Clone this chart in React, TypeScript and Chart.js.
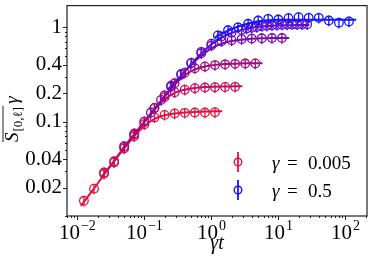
import React, { useEffect, useRef } from 'react';
import { Chart, registerables } from 'chart.js';

Chart.register(...registerables);

// ---------- data ----------
const GAMMAS = [0.005, 0.01, 0.02, 0.05, 0.1, 0.5];
const T_POINTS = [2.5, 3.54, 5, 7.07, 10, 14.1, 20, 28.3, 40, 56.6, 80, 113, 160, 226];
const T_DENSE = [2.5, 3.54, 5, 7.07, 10, 14.1, 20, 28.3, 33.6, 40, 47.6, 56.6, 67.3, 80, 95.1, 113, 135, 160, 190, 226, 269];
const T_LINE = [2.25, 3.54, 5, 7.07, 10, 14.1, 20, 28.3, 40, 56.6, 80, 113, 160, 226, 290];

const S_G0005 = [0.0145, 0.0195, 0.028, 0.037, 0.052, 0.07, 0.094, 0.111, 0.118, 0.122, 0.124, 0.125, 0.125, 0.126];
const S_G001 = [0.029, 0.038, 0.054, 0.073, 0.1, 0.14, 0.182, 0.205, 0.218, 0.226, 0.23, 0.232, 0.233, 0.234];
const S_G002 = [0.055, 0.075, 0.1, 0.14, 0.19, 0.255, 0.33, 0.368, 0.385, 0.398, 0.405, 0.41, 0.413, 0.414];
const S_G005 = [0.125, 0.17, 0.235, 0.315, 0.42, 0.53, 0.64, 0.71, 0.73, 0.75, 0.76, 0.765, 0.77, 0.77];
const S_G01 = [0.24, 0.32, 0.42, 0.55, 0.67, 0.8, 0.88, 0.94, 0.97, 0.99, 1.01, 1.03, 1.04, 1.05, 1.06, 1.065, 1.07, 1.075, 1.075, 1.08, 1.08];
const S_G05 = [0.82, 0.93, 1.0, 1.09, 1.18, 1.23, 1.21, 1.25, 1.28, 1.26, 1.26, 1.18, 1.12, 1.155];

const L_G0005 = [0.0128, 0.0195, 0.0275, 0.038, 0.052, 0.07, 0.09, 0.107, 0.117, 0.122, 0.125, 0.127, 0.128, 0.129, 0.129];
const L_G001 = [0.0255, 0.0385, 0.054, 0.073, 0.099, 0.133, 0.172, 0.202, 0.218, 0.228, 0.233, 0.235, 0.236, 0.237, 0.237];
const L_G002 = [0.049, 0.074, 0.1, 0.137, 0.185, 0.245, 0.31, 0.358, 0.385, 0.4, 0.408, 0.412, 0.415, 0.416, 0.416];
const L_G005 = [0.11, 0.165, 0.228, 0.305, 0.4, 0.5, 0.6, 0.67, 0.715, 0.74, 0.755, 0.765, 0.77, 0.772, 0.772];
const L_G01 = [0.22, 0.31, 0.41, 0.53, 0.66, 0.78, 0.87, 0.94, 0.99, 1.02, 1.04, 1.05, 1.055, 1.06, 1.06];
const L_G05 = [0.78, 0.92, 1.02, 1.1, 1.16, 1.19, 1.2, 1.2, 1.2, 1.2, 1.2, 1.2, 1.2, 1.2, 1.2];

const POINT_T = [T_POINTS, T_POINTS, T_POINTS, T_POINTS, T_DENSE, T_POINTS];
const POINT_S = [S_G0005, S_G001, S_G002, S_G005, S_G01, S_G05];
const LINE_S = [L_G0005, L_G001, L_G002, L_G005, L_G01, L_G05];
const ERR_REL = 0.13;

const X_MIN = 0.007;
const X_MAX = 210;
const Y_MIN = 0.01;
const Y_MAX = 1.7;
const X_TICKS = [0.01, 0.1, 1, 10, 100];
const X_EXPONENTS = ['\u22122', '\u22121', '0', '1', '2'];
const Y_TICKS = [0.02, 0.04, 0.1, 0.2, 0.4, 1];
const Y_LABELS = ['0.02', '0.04', '0.1', '0.2', '0.4', '1'];
const MINOR_MULT = [1, 2, 3, 4, 5, 6, 7, 8, 9];
const DECADES = [-3, -2, -1, 0, 1, 2];
const LEGEND_SERIES = [0, 5];
const LEGEND_VALUES = ['0.005', '0.5'];

// ---------- styles ----------
const COLORS = [
  'rgb(225,20,65)',
  'rgb(195,15,95)',
  'rgb(160,10,130)',
  'rgb(125,10,170)',
  'rgb(90,15,210)',
  'rgb(20,20,250)',
];
const SERIF = '"Liberation Serif", "DejaVu Serif", serif';

const decorPlugin = {
  id: 'decor',
  afterDatasetsDraw(chart: any) {
    const { ctx, chartArea: a } = chart;
    const ys = chart.scales.y;
    ctx.save();
    ctx.beginPath();
    ctx.rect(a.left, a.top, a.right - a.left, a.bottom - a.top);
    ctx.clip();
    chart.data.datasets.forEach((ds: any, di: number) => {
      if (!ds.isPoints) return;
      const meta = chart.getDatasetMeta(di);
      ctx.strokeStyle = ds.borderColor;
      ctx.lineWidth = 1.3;
      meta.data.forEach((el: any, j: number) => {
        const v = ds.data[j].y;
        const y0 = ys.getPixelForValue(v * (1 - ERR_REL));
        const y1 = ys.getPixelForValue(v * (1 + ERR_REL));
        ctx.beginPath();
        ctx.moveTo(el.x, y0);
        ctx.lineTo(el.x, y1);
        ctx.stroke();
      });
    });
    ctx.restore();
  },
  afterDraw(chart: any) {
    const { ctx, chartArea: a } = chart;
    const xs = chart.scales.x;
    const ys = chart.scales.y;
    ctx.save();
    // frame
    ctx.strokeStyle = '#202020';
    ctx.lineWidth = 1.2;
    ctx.strokeRect(a.left, a.top, a.right - a.left, a.bottom - a.top);
    // ticks
    ctx.lineWidth = 1;
    DECADES.forEach((k) => {
      MINOR_MULT.forEach((m) => {
        const v = m * Math.pow(10, k);
        if (v >= X_MIN && v <= X_MAX) {
          const px = Math.round(xs.getPixelForValue(v)) + 0.5;
          const len = m === 1 ? 4 : 2;
          ctx.beginPath();
          ctx.moveTo(px, a.bottom);
          ctx.lineTo(px, a.bottom + len);
          ctx.stroke();
        }
        if (v >= Y_MIN && v <= Y_MAX) {
          const py = Math.round(ys.getPixelForValue(v)) + 0.5;
          const len = Y_TICKS.some((t) => Math.abs(t - v) < v * 1e-6) ? 4 : 2;
          ctx.beginPath();
          ctx.moveTo(a.left, py);
          ctx.lineTo(a.left - len, py);
          ctx.stroke();
        }
      });
    });
    // x tick labels with superscripts
    ctx.fillStyle = '#000';
    ctx.textBaseline = 'alphabetic';
    ctx.textAlign = 'left';
    X_TICKS.forEach((v, i) => {
      const px = xs.getPixelForValue(v);
      ctx.font = `21px ${SERIF}`;
      const wb = ctx.measureText('10').width;
      ctx.font = `14px ${SERIF}`;
      const we = ctx.measureText(X_EXPONENTS[i]).width;
      const start = px - (wb + we + 1) / 2;
      ctx.font = `21px ${SERIF}`;
      ctx.fillText('10', start, 239);
      ctx.font = `14px ${SERIF}`;
      ctx.fillText(X_EXPONENTS[i], start + wb + 1, 230);
    });
    // x title
    ctx.font = `italic 20px ${SERIF}`;
    ctx.textAlign = 'center';
    ctx.fillText('\u03b3t', (a.left + a.right) / 2, 249);
    // y title
    ctx.save();
    ctx.translate(18, 142);
    ctx.rotate(-Math.PI / 2);
    ctx.textAlign = 'left';
    ctx.font = `italic 19px ${SERIF}`;
    ctx.fillText('S', 0, 0);
    const wS = ctx.measureText('S').width;
    ctx.font = `13px ${SERIF}`;
    const sub = '[0,\u2113]';
    ctx.fillText(sub, wS + 1, 4);
    const wSub = ctx.measureText(sub).width;
    ctx.font = `italic 19px ${SERIF}`;
    ctx.fillText('\u03b3', wS + wSub + 4, 0);
    ctx.beginPath();
    ctx.lineWidth = 1;
    ctx.moveTo(0, -15);
    ctx.lineTo(wS + wSub + 2, -15);
    ctx.stroke();
    ctx.restore();
    // legend
    const rows = [162, 190];
    LEGEND_SERIES.forEach((si, r) => {
      const cy = rows[r];
      const cx = 238;
      ctx.strokeStyle = COLORS[si];
      ctx.lineWidth = 1.8;
      ctx.beginPath();
      ctx.moveTo(cx, cy - 10);
      ctx.lineTo(cx, cy + 10);
      ctx.stroke();
      ctx.lineWidth = 1.4;
      ctx.beginPath();
      ctx.arc(cx, cy, 3.8, 0, Math.PI * 2);
      ctx.stroke();
      ctx.fillStyle = '#000';
      ctx.textAlign = 'left';
      ctx.font = `italic 19px ${SERIF}`;
      ctx.fillText('\u03b3', 272, cy + 7);
      ctx.font = `19px ${SERIF}`;
      ctx.fillText('=', 287, cy + 7);
      ctx.fillText(LEGEND_VALUES[r], 308, cy + 7);
    });
    ctx.restore();
  },
};

function buildDatasets() {
  const sets: any[] = [];
  GAMMAS.forEach((g, i) => {
    sets.push({
      type: 'line',
      data: T_LINE.map((t, j) => ({ x: g * t, y: LINE_S[i][j] })),
      borderColor: COLORS[i],
      backgroundColor: COLORS[i],
      borderWidth: 2,
      pointRadius: 0,
      cubicInterpolationMode: 'monotone',
      fill: false,
      order: -i,
    });
    sets.push({
      type: 'scatter',
      isPoints: true,
      data: POINT_T[i].map((t, j) => ({ x: g * t, y: POINT_S[i][j] })),
      borderColor: COLORS[i],
      backgroundColor: 'rgba(0,0,0,0)',
      pointRadius: 4.3,
      pointBorderWidth: 1.3,
      pointStyle: 'circle',
      showLine: false,
      order: -i,
    });
  });
  return sets;
}

export default function App() {
  const ref = useRef<HTMLCanvasElement>(null);
  useEffect(() => {
    const canvas = ref.current!;
    const chart = new Chart(canvas, {
      type: 'scatter',
      data: { datasets: buildDatasets() },
      options: {
        responsive: false,
        animation: false,
        devicePixelRatio: 1,
        layout: { padding: { top: 3, right: 6, left: 0, bottom: 0 } },
        plugins: { legend: { display: false }, tooltip: { enabled: false } },
        scales: {
          x: {
            type: 'logarithmic',
            min: X_MIN,
            max: X_MAX,
            grid: { display: false, drawTicks: false },
            border: { display: false },
            ticks: { display: false },
            afterFit: (s: any) => { s.height = 45; s.paddingLeft = 0; s.paddingRight = 0; },
          },
          y: {
            type: 'logarithmic',
            min: Y_MIN,
            max: Y_MAX,
            grid: { display: false, drawTicks: false },
            border: { display: false },
            afterBuildTicks: (s: any) => { s.ticks = Y_TICKS.map((v) => ({ value: v })); },
            afterFit: (s: any) => { s.width = 67; s.paddingTop = 0; s.paddingBottom = 0; },
            ticks: {
              autoSkip: false,
              padding: 5,
              color: '#000',
              font: { family: SERIF, size: 21 },
              callback: (v: any) => {
                const idx = Y_TICKS.findIndex((t) => Math.abs(t - Number(v)) < t * 1e-6);
                return idx >= 0 ? Y_LABELS[idx] : '';
              },
            },
          },
        },
      },
      plugins: [decorPlugin],
    } as any);
    return () => chart.destroy();
  }, []);
  return (
    <div style={{ position: 'absolute', left: 0, top: 0, width: 373, height: 261, background: '#fff' }}>
      <canvas ref={ref} width={373} height={261} style={{ display: 'block', width: 373, height: 261 }} />
    </div>
  );
}
